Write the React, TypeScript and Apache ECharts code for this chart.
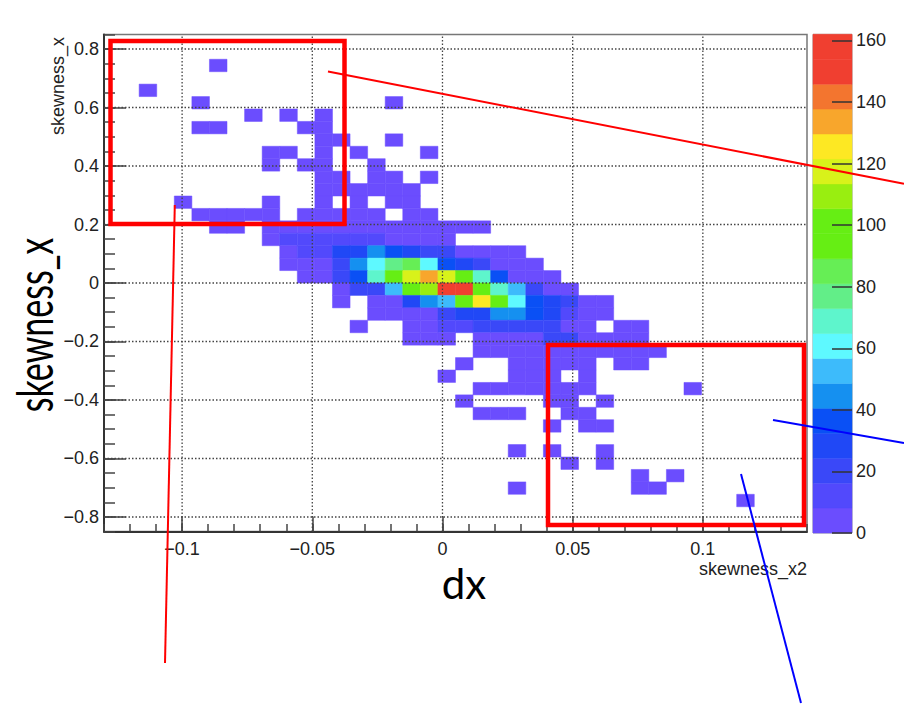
import React, { useEffect, useRef } from "react";
import * as echarts from "echarts";

// ---- binning of the 2D histogram ----
const X_MIN = -0.13;
const X_MAX = 0.14;
const Y_MIN = -0.85;
const Y_MAX = 0.85;
const N_X = 40;
const N_Y = 40;
const Z_MAX = 162;

// ---- axis ticks ----
const X_MAJOR = [-0.1, -0.05, 0, 0.05, 0.1];
const X_MINOR = [-0.13, -0.12, -0.11, -0.1, -0.09, -0.08, -0.07, -0.06, -0.05, -0.04, -0.03, -0.02, -0.01, 0, 0.01, 0.02, 0.03, 0.04, 0.05, 0.06, 0.07, 0.08, 0.09, 0.1, 0.11, 0.12, 0.13, 0.14];
const Y_MAJOR = [-0.8, -0.6, -0.4, -0.2, 0, 0.2, 0.4, 0.6, 0.8];
const Y_MINOR = [-0.85, -0.8, -0.75, -0.7, -0.65, -0.6, -0.55, -0.5, -0.45, -0.4, -0.35, -0.3, -0.25, -0.2, -0.15, -0.1, -0.05, 0, 0.05, 0.1, 0.15, 0.2, 0.25, 0.3, 0.35, 0.4, 0.45, 0.5, 0.55, 0.6, 0.65, 0.7, 0.75, 0.8, 0.85];
const Z_TICKS = [0, 20, 40, 60, 80, 100, 120, 140, 160];

// ---- colour palette (20 contour levels, low -> high) ----
const PALETTE = [
  "#6b4dfe", "#5249fc", "#3a48f8", "#2048f6", "#0a50f5",
  "#1590f0", "#3dbbfb", "#5ef9ff", "#5ef5cc", "#62ee88",
  "#66ee55", "#66ee14", "#66ee14", "#99ee10", "#d8f21a",
  "#fde823", "#f8a62c", "#f3752f", "#f03f30", "#f03f30",
];

// ---- bin contents, rows from top (y = 0.85) to bottom (y = -0.85), columns x = -0.13 .. 0.14 ----
const COUNTS: number[][] = [
  [0,0,0,0,0,0,0,0,0,0, 0,0,0,0,0,0,0,0,0,0, 0,0,0,0,0,0,0,0,0,0, 0,0,0,0,0,0,0,0,0,0],
  [0,0,0,0,0,0,0,0,0,0, 0,0,0,0,0,0,0,0,0,0, 0,0,0,0,0,0,0,0,0,0, 0,0,0,0,0,0,0,0,0,0],
  [0,0,0,0,0,0,1,0,0,0, 0,0,0,0,0,0,0,0,0,0, 0,0,0,0,0,0,0,0,0,0, 0,0,0,0,0,0,0,0,0,0],
  [0,0,0,0,0,0,0,0,0,0, 0,0,0,0,0,0,0,0,0,0, 0,0,0,0,0,0,0,0,0,0, 0,0,0,0,0,0,0,0,0,0],
  [0,0,1,0,0,0,0,0,0,0, 0,0,0,0,0,0,0,0,0,0, 0,0,0,0,0,0,0,0,0,0, 0,0,0,0,0,0,0,0,0,0],
  [0,0,0,0,0,1,0,0,0,0, 0,0,0,0,0,0,1,0,0,0, 0,0,0,0,0,0,0,0,0,0, 0,0,0,0,0,0,0,0,0,0],
  [0,0,0,0,0,0,0,0,1,0, 1,0,1,0,0,0,0,0,0,0, 0,0,0,0,0,0,0,0,0,0, 0,0,0,0,0,0,0,0,0,0],
  [0,0,0,0,0,1,1,0,0,0, 0,1,2,0,0,0,0,0,0,0, 0,0,0,0,0,0,0,0,0,0, 0,0,0,0,0,0,0,0,0,0],
  [0,0,0,0,0,0,0,0,0,0, 0,0,2,1,0,0,1,0,0,0, 0,0,0,0,0,0,0,0,0,0, 0,0,0,0,0,0,0,0,0,0],
  [0,0,0,0,0,0,0,0,0,1, 1,0,2,0,1,0,0,0,1,0, 0,0,0,0,0,0,0,0,0,0, 0,0,0,0,0,0,0,0,0,0],
  [0,0,0,0,0,0,0,0,0,1, 0,1,2,0,0,1,0,0,0,0, 0,0,0,0,0,0,0,0,0,0, 0,0,0,0,0,0,0,0,0,0],
  [0,0,0,0,0,0,0,0,0,0, 0,0,2,1,0,1,1,0,1,0, 0,0,0,0,0,0,0,0,0,0, 0,0,0,0,0,0,0,0,0,0],
  [0,0,0,0,0,0,0,0,0,0, 0,0,2,2,1,2,1,1,0,0, 0,0,0,0,0,0,0,0,0,0, 0,0,0,0,0,0,0,0,0,0],
  [0,0,0,0,1,0,0,0,0,1, 0,0,3,0,2,0,2,1,0,0, 0,0,0,0,0,0,0,0,0,0, 0,0,0,0,0,0,0,0,0,0],
  [0,0,0,0,0,1,1,1,1,1, 0,2,3,3,3,2,0,2,1,0, 0,0,0,0,0,0,0,0,0,0, 0,0,0,0,0,0,0,0,0,0],
  [0,0,0,0,0,0,1,1,0,2, 3,4,5,6,6,5,5,4,4,3, 2,1,0,0,0,0,0,0,0,0, 0,0,0,0,0,0,0,0,0,0],
  [0,0,0,0,0,0,0,0,0,2, 10,10,12,12,12,12,7,6,6,5, 0,0,0,0,0,0,0,0,0,0, 0,0,0,0,0,0,0,0,0,0],
  [0,0,0,0,0,0,0,0,0,0, 3,12,12,28,28,44,36,28,20,20, 3,3,2,1,0,0,0,0,0,0, 0,0,0,0,0,0,0,0,0,0],
  [0,0,0,0,0,0,0,0,0,0, 3,4,5,20,44,60,77,85,60,36, 28,20,4,3,2,0,0,0,0,0, 0,0,0,0,0,0,0,0,0,0],
  [0,0,0,0,0,0,0,0,0,0, 0,4,6,20,36,68,93,117,133,117, 93,68,36,5,3,2,0,0,0,0, 0,0,0,0,0,0,0,0,0,0],
  [0,0,0,0,0,0,0,0,0,0, 0,0,0,3,20,20,52,93,109,155, 162,93,68,52,20,4,3,0,0,0, 0,0,0,0,0,0,0,0,0,0],
  [0,0,0,0,0,0,0,0,0,0, 0,0,0,2,0,3,4,28,44,52, 93,125,93,60,36,28,20,4,2,0, 0,0,0,0,0,0,0,0,0,0],
  [0,0,0,0,0,0,0,0,0,0, 0,0,0,0,0,3,4,5,6,20, 28,28,44,44,36,28,14,4,2,0, 0,0,0,0,0,0,0,0,0,0],
  [0,0,0,0,0,0,0,0,0,0, 0,0,0,0,1,0,0,3,4,12, 12,20,20,20,20,20,5,3,0,1, 1,0,0,0,0,0,0,0,0,0],
  [0,0,0,0,0,0,0,0,0,0, 0,0,0,0,0,0,0,3,4,3, 0,4,5,5,6,20,20,4,3,2, 1,0,0,0,0,0,0,0,0,0],
  [0,0,0,0,0,0,0,0,0,0, 0,0,0,0,0,0,0,0,0,0, 0,3,4,5,5,6,5,4,3,2, 2,1,0,0,0,0,0,0,0,0],
  [0,0,0,0,0,0,0,0,0,0, 0,0,0,0,0,0,0,0,0,0, 1,0,0,2,3,3,2,2,0,1, 1,0,0,0,0,0,0,0,0,0],
  [0,0,0,0,0,0,0,0,0,0, 0,0,0,0,0,0,0,0,0,1, 0,0,0,2,2,2,0,1,0,0, 0,0,0,0,0,0,0,0,0,0],
  [0,0,0,0,0,0,0,0,0,0, 0,0,0,0,0,0,0,0,0,0, 0,1,2,2,2,3,2,2,0,0, 0,0,0,1,0,0,0,0,0,0],
  [0,0,0,0,0,0,0,0,0,0, 0,0,0,0,0,0,0,0,0,0, 1,0,0,0,0,2,2,0,1,0, 0,0,0,0,0,0,0,0,0,0],
  [0,0,0,0,0,0,0,0,0,0, 0,0,0,0,0,0,0,0,0,0, 0,1,1,1,0,0,1,1,0,0, 0,0,0,0,0,0,0,0,0,0],
  [0,0,0,0,0,0,0,0,0,0, 0,0,0,0,0,0,0,0,0,0, 0,0,0,0,0,1,0,1,1,0, 0,0,0,0,0,0,0,0,0,0],
  [0,0,0,0,0,0,0,0,0,0, 0,0,0,0,0,0,0,0,0,0, 0,0,0,0,0,0,0,0,0,0, 0,0,0,0,0,0,0,0,0,0],
  [0,0,0,0,0,0,0,0,0,0, 0,0,0,0,0,0,0,0,0,0, 0,0,0,1,0,1,0,0,1,0, 0,0,0,0,0,0,0,0,0,0],
  [0,0,0,0,0,0,0,0,0,0, 0,0,0,0,0,0,0,0,0,0, 0,0,0,0,0,0,1,0,1,0, 0,0,0,0,0,0,0,0,0,0],
  [0,0,0,0,0,0,0,0,0,0, 0,0,0,0,0,0,0,0,0,0, 0,0,0,0,0,0,0,0,0,0, 1,0,1,0,0,0,0,0,0,0],
  [0,0,0,0,0,0,0,0,0,0, 0,0,0,0,0,0,0,0,0,0, 0,0,0,1,0,0,0,0,0,0, 1,1,0,0,0,0,0,0,0,0],
  [0,0,0,0,0,0,0,0,0,0, 0,0,0,0,0,0,0,0,0,0, 0,0,0,0,0,0,0,0,0,0, 0,0,0,0,0,0,1,0,0,0],
  [0,0,0,0,0,0,0,0,0,0, 0,0,0,0,0,0,0,0,0,0, 0,0,0,0,0,0,0,0,0,0, 0,0,0,0,0,0,0,0,0,0],
  [0,0,0,0,0,0,0,0,0,0, 0,0,0,0,0,0,0,0,0,0, 0,0,0,0,0,0,0,0,0,0, 0,0,0,0,0,0,0,0,0,0],
];

// ---- texts ----
const X_TITLE = "dx";
const Y_TITLE = "skewness_x";
const X_AXIS_NAME = "skewness_x2";
const Y_AXIS_NAME = "skewness_x";

const LABEL_FONT = "'Liberation Sans', Arial, Helvetica, sans-serif";
const TITLE_FONT = "Lato, 'Open Sans', sans-serif";

const BW = (X_MAX - X_MIN) / N_X;
const BH = (Y_MAX - Y_MIN) / N_Y;
const BAND = Z_MAX / PALETTE.length;

const fmt = (v: number) => String(Math.round(v * 1000) / 1000).replace("-", "\u2212");
const colorOf = (c: number) => PALETTE[Math.min(PALETTE.length - 1, Math.floor(c / BAND))];

export default function App() {
  const ref = useRef<HTMLDivElement>(null);

  useEffect(() => {
    if (!ref.current) return;
    const chart = echarts.init(ref.current, undefined, { renderer: "svg" });

    const cells: number[][] = [];
    COUNTS.forEach((row, r) => {
      const j = N_Y - 1 - r;
      row.forEach((c, i) => {
        if (c > 0) cells.push([X_MIN + (i + 0.5) * BW, Y_MIN + (j + 0.5) * BH, c]);
      });
    });

    const tickStyle = { color: "#444", width: 1.5 };
    const labelStyle = { fontSize: 18, color: "#222", fontFamily: LABEL_FONT };

    const option: any = {
      animation: false,
      backgroundColor: "#ffffff",
      grid: [
        { left: 104, top: 34.4, width: 703, height: 497.2, show: true, borderColor: "#777", borderWidth: 1.5 },
        { left: 813, top: 34.3, width: 39, height: 498.7, show: true, borderColor: "#999", borderWidth: 1 },
      ],
      xAxis: [
        {
          gridIndex: 0, type: "value", min: X_MIN, max: X_MAX, position: "bottom", z: 5,
          axisLine: { show: true, onZero: false, lineStyle: { color: "#333", width: 2 } },
          axisTick: { show: true, inside: true, length: 15, customValues: X_MAJOR, lineStyle: tickStyle },
          axisLabel: { show: true, customValues: X_MAJOR, formatter: fmt, margin: 8, ...labelStyle },
          splitLine: { show: false },
        },
        {
          gridIndex: 0, type: "value", min: X_MIN, max: X_MAX, position: "bottom", z: 5,
          axisLine: { show: false, onZero: false },
          axisTick: { show: true, inside: true, length: 7.5, customValues: X_MINOR, lineStyle: tickStyle },
          axisLabel: { show: false },
          splitLine: { show: false },
        },
        { gridIndex: 1, type: "value", min: 0, max: 1, show: false, axisLine: { onZero: false } },
      ],
      yAxis: [
        {
          gridIndex: 0, type: "value", min: Y_MIN, max: Y_MAX, position: "left", z: 5,
          axisLine: { show: true, onZero: false, lineStyle: { color: "#333", width: 2 } },
          axisTick: { show: true, inside: true, length: 22, customValues: Y_MAJOR, lineStyle: tickStyle },
          axisLabel: { show: true, customValues: Y_MAJOR, formatter: fmt, margin: 5, ...labelStyle },
          splitLine: { show: false },
        },
        {
          gridIndex: 0, type: "value", min: Y_MIN, max: Y_MAX, position: "left", z: 5,
          axisLine: { show: false, onZero: false },
          axisTick: { show: true, inside: true, length: 11, customValues: Y_MINOR, lineStyle: tickStyle },
          axisLabel: { show: false },
          splitLine: { show: false },
        },
        {
          gridIndex: 1, type: "value", min: 0, max: Z_MAX, position: "right", z: 5,
          axisLine: { show: false, onZero: false },
          axisTick: { show: true, inside: true, length: 20, customValues: Z_TICKS, lineStyle: { color: "#333", width: 1.5 } },
          axisLabel: { show: true, customValues: Z_TICKS, margin: 4, ...labelStyle },
          splitLine: { show: false },
        },
      ],
      series: [
        {
          type: "custom", name: "counts", xAxisIndex: 0, yAxisIndex: 0, z: 2,
          data: cells,
          renderItem: (_p: any, api: any) => {
            const xc = api.value(0), yc = api.value(1), c = api.value(2);
            const a = api.coord([xc - BW / 2, yc + BH / 2]);
            const b = api.coord([xc + BW / 2, yc - BH / 2]);
            const col = colorOf(c);
            return {
              type: "rect",
              shape: { x: a[0], y: a[1], width: b[0] - a[0], height: b[1] - a[1] },
              style: { fill: col, stroke: col, lineWidth: 0.5 },
            };
          },
        },
        {
          type: "custom", name: "xgrid", xAxisIndex: 0, yAxisIndex: 0, z: 3, silent: true,
          data: X_MAJOR.map((v) => [v, 0]),
          renderItem: (_p: any, api: any) => {
            const a = api.coord([api.value(0), Y_MIN]);
            const b = api.coord([api.value(0), Y_MAX]);
            return { type: "line", shape: { x1: a[0], y1: a[1], x2: b[0], y2: b[1] }, style: { stroke: "#444", lineWidth: 1.3, lineDash: [1.5, 2] } };
          },
        },
        {
          type: "custom", name: "ygrid", xAxisIndex: 0, yAxisIndex: 0, z: 3, silent: true,
          data: Y_MAJOR.map((v) => [0, v]),
          renderItem: (_p: any, api: any) => {
            const a = api.coord([X_MIN, api.value(1)]);
            const b = api.coord([X_MAX, api.value(1)]);
            return { type: "line", shape: { x1: a[0], y1: a[1], x2: b[0], y2: b[1] }, style: { stroke: "#444", lineWidth: 1.3, lineDash: [1.5, 2] } };
          },
        },
        {
          type: "custom", name: "palette", xAxisIndex: 2, yAxisIndex: 2, z: 2, silent: true,
          data: PALETTE.map((_c, k) => [0.5, k]),
          renderItem: (_p: any, api: any) => {
            const k = api.value(1);
            const a = api.coord([0, (k + 1) * BAND]);
            const b = api.coord([1, k * BAND]);
            return { type: "rect", shape: { x: a[0], y: a[1], width: b[0] - a[0], height: b[1] - a[1] }, style: { fill: PALETTE[k], stroke: PALETTE[k], lineWidth: 0.5 } };
          },
        },
      ],
      graphic: [
        { type: "text", z: 50, x: 58, y: 86, rotation: Math.PI / 2, style: { text: Y_AXIS_NAME, fontSize: 18, fill: "#222", fontFamily: LABEL_FONT, align: "center", verticalAlign: "middle" } },
        { type: "text", z: 50, x: 807, y: 569, style: { text: X_AXIS_NAME, fontSize: 18, fill: "#222", fontFamily: LABEL_FONT, align: "right", verticalAlign: "middle" } },
        { type: "text", z: 50, x: 34, y: 325, rotation: Math.PI / 2, scaleX: 0.68, scaleY: 1, style: { text: Y_TITLE, fontSize: 50, fill: "#000", fontFamily: TITLE_FONT, align: "center", verticalAlign: "middle" } },
        { type: "text", z: 50, x: 464, y: 583, style: { text: X_TITLE, fontSize: 42, fill: "#000", fontFamily: TITLE_FONT, align: "center", verticalAlign: "middle" } },
        { type: "rect", z: 60, shape: { x: 110.5, y: 41, width: 234, height: 183 }, style: { fill: "none", stroke: "#ff0000", lineWidth: 4.5 } },
        { type: "rect", z: 60, shape: { x: 548, y: 345, width: 256, height: 180 }, style: { fill: "none", stroke: "#ff0000", lineWidth: 4.5 } },
        { type: "line", z: 60, shape: { x1: 328, y1: 71.5, x2: 904, y2: 183.8 }, style: { stroke: "#ff0000", lineWidth: 2 } },
        { type: "line", z: 60, shape: { x1: 174.8, y1: 205, x2: 165, y2: 663 }, style: { stroke: "#ff0000", lineWidth: 2 } },
        { type: "line", z: 60, shape: { x1: 773, y1: 420, x2: 904, y2: 443 }, style: { stroke: "#0000ff", lineWidth: 2 } },
        { type: "line", z: 60, shape: { x1: 741, y1: 474, x2: 801, y2: 703 }, style: { stroke: "#0000ff", lineWidth: 2 } },
      ],
    };

    chart.setOption(option);
    return () => chart.dispose();
  }, []);

  return (
    <div
      ref={ref}
      style={{ position: "absolute", left: 0, top: 0, width: 904, height: 706, background: "#fff" }}
    />
  );
}
